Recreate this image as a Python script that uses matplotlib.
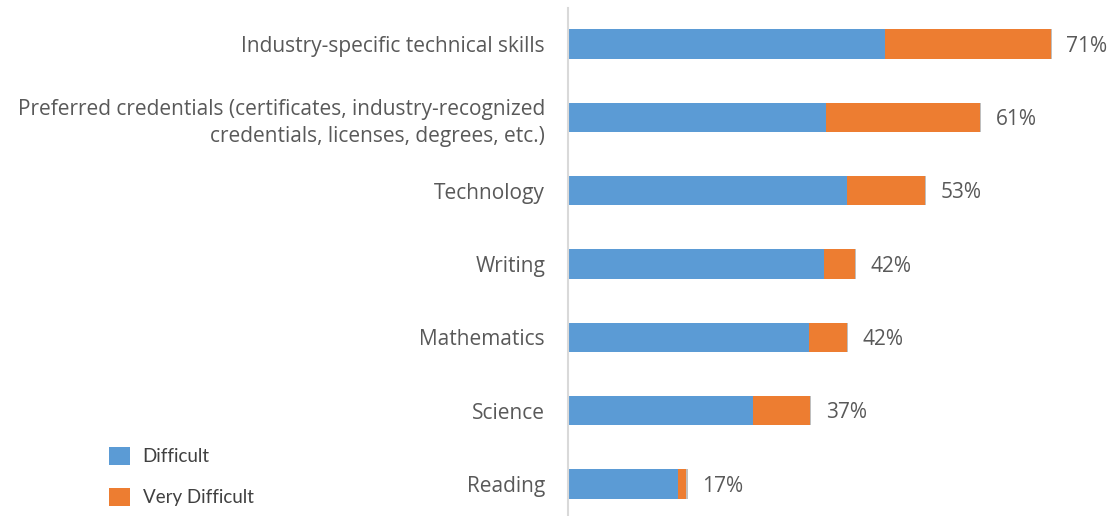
import matplotlib.pyplot as plt
import numpy as np

categories = [ "Industry-specific technical skills",
               "Preferred credentials (certificates, industry-recognized\ncredentials, licenses, degrees, etc.)",
               "Technology", "Writing", "Mathematics", "Science", "Reading" ]
difficult = [ 46.6, 37.9, 41.0, 37.6, 35.4, 27.2, 16.2 ]
veryDifficult = [ 24.4, 22.7, 11.5, 4.6, 5.6, 8.4, 1.2 ]
other = [ 0.2, 0.2, 0.2, 0.2, 0.2, 0.2, 0.2 ]
totalLabels = [ "71%", "61%", "53%", "42%", "42%", "37%", "17%" ]

blue = '#5B9BD5'
orange = '#ED7D31'
textColor = '#595959'

plt.rcParams['font.family'] = [ 'Open Sans', 'DejaVu Sans' ]

fig = plt.figure( figsize = ( 11.12, 5.16 ), dpi = 100 )
ax = fig.add_axes( [ 568 / 1112, -4.5 / 516, 532 / 1112, 513 / 516 ] )

y = np.arange( len( categories ) )
difficult = np.array( difficult )
veryDifficult = np.array( veryDifficult )
other = np.array( other )

ax.barh( y, difficult, height = 0.4, color = blue, label = "Difficult" )
ax.barh( y, veryDifficult, left = difficult, height = 0.4, color = orange, label = "Very Difficult" )
ax.barh( y, other, left = difficult + veryDifficult, height = 0.4, color = '#bfbfbf' )

ends = difficult + veryDifficult + other
for yi, end, label in zip( y, ends, totalLabels ):
    ax.text( end + 2.1, yi + 0.03, label, va = 'center', ha = 'left', fontsize = 15, color = textColor )

ax.set_xlim( 0, 532 / 6.8 )
ax.set_ylim( len( categories ) - 0.5, -0.5 )
ax.set_yticks( y )
ax.set_yticklabels( categories, fontsize = 15, color = textColor, linespacing = 1.4 )
ax.tick_params( axis = 'y', length = 0, pad = 16.5 )
ax.set_xticks( [] )
for side in [ 'top', 'right', 'bottom' ]:
    ax.spines[side].set_visible( False )
ax.spines['left'].set_color( '#d9d9d9' )
ax.spines['left'].set_linewidth( 1.5 )

handles, labels = ax.get_legend_handles_labels()
leg = fig.legend( handles, labels, loc = 'upper left', bbox_to_anchor = ( 92 / 1112, 1 - 430 / 516 ),
                  frameon = False, handlelength = 1.1, handleheight = 1.1,
                  labelspacing = 1.2, handletextpad = 0.7,
                  prop = { 'family': [ 'Lato', 'DejaVu Sans' ], 'size': 13.5 } )
for t in leg.get_texts():
    t.set_color( '#404040' )

fig.savefig( "out.png", dpi = 100 )
